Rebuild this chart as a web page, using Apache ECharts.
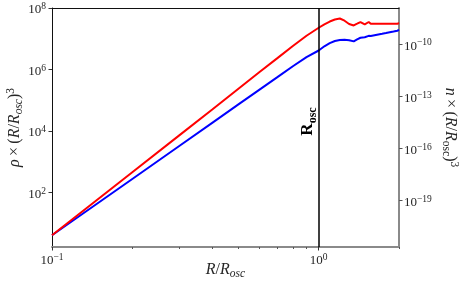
<!DOCTYPE html>
<html><head><meta charset="utf-8">
<script src="https://cdn.jsdelivr.net/npm/echarts@6/dist/echarts.min.js"></script>
<style>html,body{margin:0;padding:0;background:#fff}#c{width:462px;height:282px}</style>
</head><body><div id="c"></div>
<script>
// R / R_osc sample positions
const rOverRosc = [0.1,0.2,0.3,0.4,0.5,0.6,0.7,0.8,0.9,1.0,1.05,1.1,1.15,1.2,1.25,1.3,1.353,1.393,1.434,1.488,1.54,
  1.567,1.593,1.619,1.646,1.673,1.701,1.729,1.758,1.787,1.816,1.846,1.877,1.908,1.939,1.971,2.0];
// rho x (R/R_osc)^3  (left axis, red)
const rhoScaled = [4.06,453,7.2e3,5.1e4,2.37e5,8.3e5,2.34e6,5.8e6,1.25e7,2.28e7,2.94e7,3.63e7,4.22e7,4.55e7,3.86e7,3.03e7,
  2.71e7,3.08e7,3.5e7,2.92e7,3.5e7,
  3.05e7,3.45e7,3.05e7,3.45e7,3.05e7,3.45e7,3.05e7,3.45e7,3.05e7,3.45e7,3.05e7,3.45e7,3.05e7,3.45e7,3.05e7,3.25e7];
// n x (R/R_osc)^3  (right axis, blue)
const nScaled = [1.0e-21,1.75e-18,1.40e-16,3.14e-15,3.49e-14,2.51e-13,1.31e-12,5.57e-12,1.87e-11,4.50e-11,
  7.87e-11,1.205e-10,1.59e-10,1.82e-10,1.87e-10,1.77e-10,
  1.51e-10,1.97e-10,2.44e-10,2.61e-10,3.14e-10,
  3.06e-10,3.59e-10,3.40e-10,3.97e-10,3.76e-10,4.40e-10,4.15e-10,4.86e-10,4.59e-10,5.38e-10,5.08e-10,5.96e-10,5.62e-10,6.59e-10,6.22e-10,6.89e-10];

const xRange = [0.1, 2];
const leftRange = [1.69, 1e8];
const rightRange = [2.1e-22, 1.27e-8];
const xMajorTicks = [0.1, 1];
const xMinorTicks = [0.2,0.3,0.4,0.5,0.6,0.7,0.8,0.9,2];
const leftTicks = [1e2,1e4,1e6,1e8];
const rightTicks = [1e-19,1e-16,1e-13,1e-10];
const rOscLine = 1;

const FF = 'Liberation Serif';
const TXT = '#262626';
function powLabel(v){
  const e = Math.round(Math.log10(v));
  return '{b|10}{s|' + (e < 0 ? '\u2212' + (-e) : String(e)) + '}';
}
const tickRich = {
  b: {fontFamily: FF, fontSize: 13, color: TXT, lineHeight: 17, verticalAlign: 'middle'},
  s: {fontFamily: FF, fontSize: 9.5, color: TXT, lineHeight: 9, verticalAlign: 'top'}
};
const titleRich = {
  i: {fontFamily: FF, fontStyle: 'italic', fontSize: 16, color: TXT, lineHeight: 20, verticalAlign: 'middle'},
  n: {fontFamily: FF, fontSize: 16, color: TXT, lineHeight: 20, verticalAlign: 'middle'},
  sub: {fontFamily: FF, fontStyle: 'italic', fontSize: 11.5, color: TXT, lineHeight: 9, verticalAlign: 'bottom'},
  subn: {fontFamily: FF, fontSize: 11.5, color: TXT, lineHeight: 9, verticalAlign: 'bottom'},
  sup: {fontFamily: FF, fontSize: 11.5, color: TXT, lineHeight: 9, verticalAlign: 'top'}
};

const redData = rOverRosc.map((x, i) => [x, rhoScaled[i]]);
const blueData = rOverRosc.map((x, i) => [x, nScaled[i]]);

const chart = echarts.init(document.getElementById('c'), null, {renderer: 'canvas'});
chart.setOption({
  animation: false,
  backgroundColor: '#fff',
  grid: {left: 52, right: 63, top: 8, bottom: 35, containLabel: false, outerBoundsMode: 'none'},
  xAxis: [
    {type: 'log', logBase: 10, min: xRange[0], max: xRange[1], position: 'bottom',
     name: '{i|R}{n|/}{i|R}{sub|osc}', nameLocation: 'middle', nameGap: 13, nameMoveOverlap: false,
     nameTextStyle: {rich: titleRich},
     axisLine: {show: true, lineStyle: {color: '#8a8a8a', width: 2}},
     axisTick: {show: true, inside: false, length: 3.5, lineStyle: {color: '#333', width: 1}, customValues: xMajorTicks},
     axisLabel: {show: true, margin: 5, formatter: powLabel, rich: tickRich, customValues: xMajorTicks},
     splitLine: {show: false}, minorTick: {show: false}},
    {type: 'log', logBase: 10, min: xRange[0], max: xRange[1], position: 'bottom',
     axisLine: {show: false},
     axisTick: {show: true, inside: false, length: 2, lineStyle: {color: '#555', width: 1}, customValues: xMinorTicks},
     axisLabel: {show: false}, splitLine: {show: false}},
    {type: 'log', logBase: 10, min: xRange[0], max: xRange[1], position: 'top',
     axisLine: {show: true, lineStyle: {color: '#111', width: 1}},
     axisTick: {show: false}, axisLabel: {show: false}, splitLine: {show: false}}
  ],
  yAxis: [
    {type: 'log', logBase: 10, min: leftRange[0], max: leftRange[1], position: 'left',
     name: '{i|\u03c1} {n|\u00d7} {n|(}{i|R}{n|/}{i|R}{sub|osc}{n|)}{sup|3}', nameLocation: 'middle', nameGap: 27, nameRotate: 90,
     nameMoveOverlap: false,
     nameTextStyle: {rich: titleRich},
     axisLine: {show: true, lineStyle: {color: '#111', width: 1}},
     axisTick: {show: true, inside: false, length: 3.5, lineStyle: {color: '#333'}, customValues: leftTicks},
     axisLabel: {show: true, margin: 6, formatter: powLabel, rich: tickRich, customValues: leftTicks, padding: [4,0,0,0]},
     splitLine: {show: false}},
    {type: 'log', logBase: 10, min: rightRange[0], max: rightRange[1], position: 'right',
     name: '{i|n} {n|\u00d7} {n|(}{i|R}{n|/}{i|R}{subn|osc}{n|)}{sup|3}', nameLocation: 'middle', nameGap: 41, nameRotate: -90,
     nameMoveOverlap: false,
     nameTextStyle: {rich: titleRich},
     axisLine: {show: true, lineStyle: {color: '#8a8a8a', width: 2}},
     axisTick: {show: true, inside: false, length: 3.5, lineStyle: {color: '#555'}, customValues: rightTicks},
     axisLabel: {show: true, margin: 5, formatter: powLabel, rich: tickRich, customValues: rightTicks, padding: [4,0,0,0]},
     splitLine: {show: false}}
  ],
  series: [
    {type: 'line', name: 'rho', xAxisIndex: 0, yAxisIndex: 0, data: redData, showSymbol: false, symbol: 'none',
     lineStyle: {color: '#ff0000', width: 2}, itemStyle: {color: '#ff0000'}, z: 3,
     markLine: {silent: true, symbol: ['none', 'none'], animation: false,
       data: [{xAxis: rOscLine}],
       lineStyle: {color: '#000', width: 1.5, type: 'solid'},
       label: {show: true, position: 'insideMiddleTop', distance: [0, 0], padding: [0, 0, 0, 12], formatter: '{r|R}{s|osc}',
         rich: {
           r: {fontFamily: FF, fontWeight: 'bold', fontSize: 17, color: '#000', lineHeight: 20, verticalAlign: 'top', padding: [0,0,3,0]},
           s: {fontFamily: FF, fontWeight: 'bold', fontSize: 12, color: '#000', lineHeight: 10, verticalAlign: 'bottom'}
         }}}},
    {type: 'line', name: 'n', xAxisIndex: 0, yAxisIndex: 1, data: blueData, showSymbol: false, symbol: 'none',
     lineStyle: {color: '#0000ff', width: 2}, itemStyle: {color: '#0000ff'}, z: 2}
  ]
});
</script></body></html>
